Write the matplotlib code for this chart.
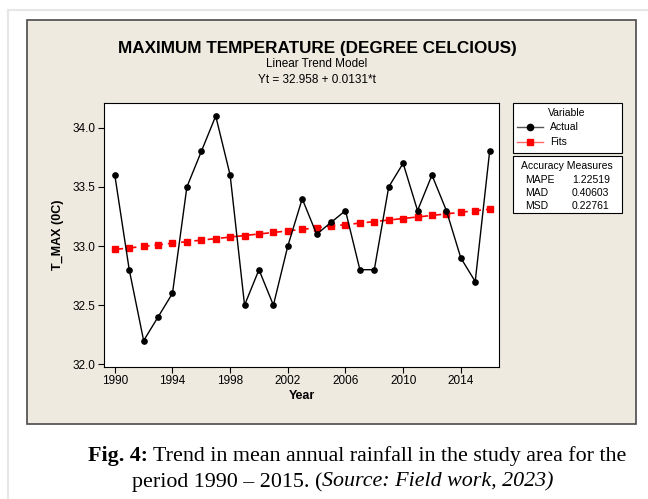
import matplotlib.pyplot as plt
from matplotlib.patches import Rectangle
from matplotlib.lines import Line2D

# data
years = list(range(1990, 2017))
actual = [33.6, 32.8, 32.2, 32.4, 32.6, 33.5, 33.8, 34.1, 33.6, 32.5,
          32.8, 32.5, 33.0, 33.4, 33.1, 33.2, 33.3, 32.8, 32.8, 33.5,
          33.7, 33.3, 33.6, 33.3, 32.9, 32.7, 33.8]
fits = [32.971, 32.984, 32.997, 33.010, 33.024, 33.037, 33.050, 33.063, 33.076, 33.089,
        33.102, 33.115, 33.128, 33.141, 33.155, 33.168, 33.181, 33.194, 33.207, 33.220,
        33.233, 33.246, 33.259, 33.272, 33.286, 33.299, 33.312]
xticks = [1990, 1994, 1998, 2002, 2006, 2010, 2014]
yticks = [32.0, 32.5, 33.0, 33.5, 34.0]
measures = [("MAPE", "1.22519"), ("MAD", "0.40603"), ("MSD", "0.22761")]

W, H = 648, 499
fig = plt.figure(figsize=(6.48, 4.99), dpi=100)
fig.patch.set_facecolor("white")

def fx(px):
    return px / W

def fy(py):
    return 1 - py / H

# faint page rules
fig.add_artist(Line2D([fx(8), fx(8)], [0, fy(10)], color="#e6e6e6", lw=1.5, zorder=-3))
fig.add_artist(Line2D([fx(8), 1], [fy(10), fy(10)], color="#e6e6e6", lw=1.5, zorder=-3))

# beige Minitab panel (behind the axes)
fig.add_artist(Rectangle((fx(27), fy(424)), fx(636) - fx(27), fy(20) - fy(424),
                         facecolor="#eeeae0", edgecolor="#4a4a4a", lw=1.2, zorder=-2))

sans = "Liberation Sans"
ax = fig.add_axes([fx(104), fy(367), fx(499) - fx(104), fy(103) - fy(367)])
ax.set_zorder(1)
ax.set_facecolor("white")
ax.plot(years, actual, color="black", lw=1, marker="o", ms=3.8, label="Actual", zorder=3)
ax.plot(years, fits, color="red", lw=1.2, ls=(0, (5, 3)), marker="s", ms=3.8,
        label="Fits", zorder=2)

ax.set_xlim(1989.25, 2016.65)
ax.set_ylim(31.977, 34.21)
ax.set_xticks(xticks)
ax.set_yticks(yticks)
ax.set_yticklabels([f"{v:.1f}" for v in yticks])
ax.tick_params(direction="out", length=4, width=0.8, labelsize=8.5, pad=2)
for lab in ax.get_xticklabels() + ax.get_yticklabels():
    lab.set_family(sans)
for s in ax.spines.values():
    s.set_linewidth(0.8)

ax.set_xlabel("Year", fontsize=9, fontweight="bold", family=sans, labelpad=2)
ax.set_ylabel("T_MAX (0C)", fontsize=9, fontweight="bold", family=sans, labelpad=6)

# titles
fig.text(fx(317), fy(48), "MAXIMUM TEMPERATURE (DEGREE CELCIOUS)", ha="center", va="center",
         fontsize=12.3, fontweight="bold", family=sans)
fig.text(fx(317), fy(64), "Linear Trend Model", ha="center", va="center", fontsize=8.5, family=sans)
fig.text(fx(317), fy(80), "Yt = 32.958 + 0.0131*t", ha="center", va="center", fontsize=8.5, family=sans)

# legend box
fig.add_artist(Rectangle((fx(513), fy(153)), fx(622) - fx(513), fy(103) - fy(153),
                         facecolor="white", edgecolor="black", lw=0.8))
fig.text(fx(567), fy(113), "Variable", ha="center", va="center", fontsize=7.5, family=sans)
fig.add_artist(Line2D([fx(517), fx(530), fx(543)], [fy(127)] * 3, color="#555555", lw=1,
                      marker="o", ms=4.5, mfc="black", mec="black", markevery=[1]))
fig.add_artist(Line2D([fx(517), fx(530), fx(543)], [fy(142)] * 3, color="#ff6666", lw=1,
                      marker="s", ms=4.5, mfc="red", mec="red", markevery=[1]))
fig.text(fx(550), fy(127), "Actual", ha="left", va="center", fontsize=7.5, family=sans)
fig.text(fx(550), fy(142), "Fits", ha="left", va="center", fontsize=7.5, family=sans)

# accuracy measures box
fig.add_artist(Rectangle((fx(513), fy(213)), fx(622) - fx(513), fy(156) - fy(213),
                         facecolor="white", edgecolor="black", lw=0.8))
fig.text(fx(567), fy(166), "Accuracy Measures", ha="center", va="center", fontsize=7.5, family=sans)
for i, (name, val) in enumerate(measures):
    yy = fy(180 + i * 13)
    fig.text(fx(525), yy, name, ha="left", va="center", fontsize=7.5, family=sans)
    fig.text(fx(572), yy, val, ha="left", va="center", fontsize=7.5, family=sans)

# caption
serif = "Liberation Serif"
cap_y1 = fy(456)
cap_y2 = fy(482)
t1 = fig.text(fx(88), cap_y1, "Fig. 4:", ha="left", va="center", fontsize=15.8,
              fontweight="bold", family=serif)
fig.canvas.draw()
bb = t1.get_window_extent()
fig.text(bb.x1 / W + fx(5), cap_y1,
         "Trend in mean annual rainfall in the study area for the",
         ha="left", va="center", fontsize=15.8, family=serif)
t2 = fig.text(fx(132), cap_y2, "period 1990 \u2013 2015. (", ha="left", va="center",
              fontsize=15.8, family=serif)
fig.canvas.draw()
bb2 = t2.get_window_extent()
fig.text(bb2.x1 / W, cap_y2, "Source: Field work, 2023)", ha="left", va="center",
         fontsize=15.8, family=serif, style="italic")

fig.savefig("out.png", dpi=100)
